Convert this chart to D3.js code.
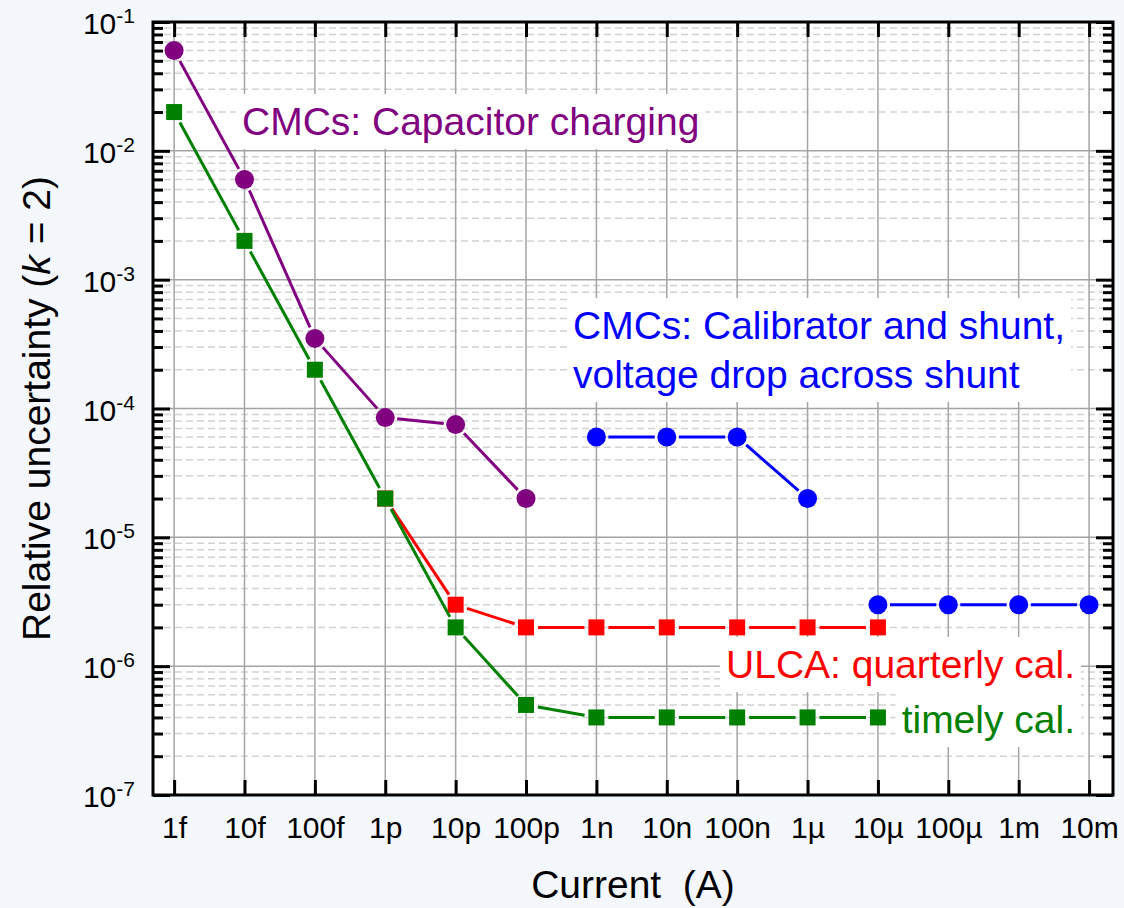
<!DOCTYPE html>
<html>
<head>
<meta charset="utf-8">
<script src="https://cdn.jsdelivr.net/npm/d3@7"></script>
<style>
body { margin: 0; background: #f4f8fd; }
svg { display: block; font-family: "Liberation Sans", Arial, sans-serif; }
</style>
</head>
<body>
<svg id="chart"></svg>
<script>
// x axis: current decades and their SI labels
const xTicks = [1e-15, 1e-14, 1e-13, 1e-12, 1e-11, 1e-10, 1e-9, 1e-8, 1e-7, 1e-6, 1e-5, 1e-4, 1e-3, 1e-2];
const xTickLabels = ["1f", "10f", "100f", "1p", "10p", "100p", "1n", "10n", "100n", "1µ", "10µ", "100µ", "1m", "10m"];

// y axis decades and exponent labels
const yTicks = [1e-7, 1e-6, 1e-5, 1e-4, 1e-3, 1e-2, 1e-1];
const yTickExp = ["-7", "-6", "-5", "-4", "-3", "-2", "-1"];

// CMCs: capacitor charging
const capCurrent = [1e-15, 1e-14, 1e-13, 1e-12, 1e-11, 1e-10];
const capUnc = [6e-2, 6e-3, 3.5e-4, 8.5e-5, 7.5e-5, 2e-5];

// CMCs: calibrator and shunt
const shuntCurrent = [1e-9, 1e-8, 1e-7, 1e-6];
const shuntUnc = [6e-5, 6e-5, 6e-5, 2e-5];

// CMCs: voltage drop across shunt
const dropCurrent = [1e-5, 1e-4, 1e-3, 1e-2];
const dropUnc = [3e-6, 3e-6, 3e-6, 3e-6];

// ULCA quarterly calibration
const quarterlyCurrent = [1e-12, 1e-11, 1e-10, 1e-9, 1e-8, 1e-7, 1e-6, 1e-5];
const quarterlyUnc = [2e-5, 3e-6, 2e-6, 2e-6, 2e-6, 2e-6, 2e-6, 2e-6];

// ULCA timely calibration
const timelyCurrent = [1e-15, 1e-14, 1e-13, 1e-12, 1e-11, 1e-10, 1e-9, 1e-8, 1e-7, 1e-6, 1e-5];
const timelyUnc = [2e-2, 2e-3, 2e-4, 2e-5, 2e-6, 5e-7, 4e-7, 4e-7, 4e-7, 4e-7, 4e-7];

class UncertaintyPlot {

    constructor(config) {
        this.config = {
            parent: config.parent,
            width: config.width || 1124,
            height: config.height || 908,
            margin: config.margin || {top: 22, right: 11, bottom: 113, left: 153}
        };
        this.init();
    }

    init() {
        let self = this;

        self.svg = d3.select(self.config.parent)
            .attr('width', self.config.width)
            .attr('height', self.config.height);

        self.inner_width = self.config.width - self.config.margin.left - self.config.margin.right;
        self.inner_height = self.config.height - self.config.margin.top - self.config.margin.bottom;

        self.chart = self.svg.append('g')
            .attr('transform', `translate(${self.config.margin.left}, ${self.config.margin.top})`);

        self.xscale = d3.scaleLog()
            .domain([Math.pow(10, -15.3), Math.pow(10, -1.66)])
            .range([0, self.inner_width]);

        self.yscale = d3.scaleLog()
            .domain([1e-7, 1e-1])
            .range([self.inner_height, 0]);

        self.chart.append('rect')
            .attr('width', self.inner_width)
            .attr('height', self.inner_height)
            .attr('fill', 'white');

        self.grid = self.chart.append('g');
        self.boxes = self.chart.append('g');
        self.data_g = self.chart.append('g');
        self.axes = self.chart.append('g');
        self.labels = self.chart.append('g');
    }

    render() {
        let self = this;
        const minor = self.yscale.ticks().filter(d => !yTicks.some(t => Math.abs(t - d) / t < 1e-6));

        // grid
        self.grid.selectAll('.minor').data(minor).join('line')
            .attr('class', 'minor')
            .attr('x1', 0).attr('x2', self.inner_width)
            .attr('y1', d => self.yscale(d)).attr('y2', d => self.yscale(d))
            .attr('stroke', '#d2d2d2').attr('stroke-width', 1.5)
            .attr('stroke-dasharray', '7,4');

        self.grid.selectAll('.hmajor').data(yTicks).join('line')
            .attr('class', 'hmajor')
            .attr('x1', 0).attr('x2', self.inner_width)
            .attr('y1', d => self.yscale(d)).attr('y2', d => self.yscale(d))
            .attr('stroke', '#a4a4a4').attr('stroke-width', 1.5);

        self.grid.selectAll('.vmajor').data(xTicks).join('line')
            .attr('class', 'vmajor')
            .attr('x1', d => self.xscale(d)).attr('x2', d => self.xscale(d))
            .attr('y1', 0).attr('y2', self.inner_height)
            .attr('stroke', '#a4a4a4').attr('stroke-width', 1.5);

        // series
        self.series(capCurrent, capUnc, '#800080', 'circle');
        self.series(shuntCurrent, shuntUnc, '#0000ff', 'circle');
        self.series(dropCurrent, dropUnc, '#0000ff', 'circle');
        self.series(quarterlyCurrent, quarterlyUnc, '#ff0000', 'square');
        self.series(timelyCurrent, timelyUnc, '#008000', 'square');

        // axes, ticks pointing inward
        const bottom = d3.axisBottom(self.xscale).tickValues(xTicks).tickSize(-15).tickSizeOuter(0)
            .tickFormat((d, i) => xTickLabels[i]);
        const top = d3.axisTop(self.xscale).tickValues(xTicks).tickSize(-15).tickSizeOuter(0).tickFormat('');
        const left = d3.axisLeft(self.yscale).tickValues(yTicks).tickSize(-17).tickSizeOuter(0).tickFormat('');
        const leftMinor = d3.axisLeft(self.yscale).tickValues(minor).tickSize(-10).tickSizeOuter(0).tickFormat('');
        const right = d3.axisRight(self.yscale).tickValues(yTicks).tickSize(-17).tickSizeOuter(0).tickFormat('');
        const rightMinor = d3.axisRight(self.yscale).tickValues(minor).tickSize(-10).tickSizeOuter(0).tickFormat('');

        const xb = self.axes.append('g').attr('transform', `translate(0, ${self.inner_height})`).call(bottom);
        self.axes.append('g').call(top);
        self.axes.append('g').call(left);
        self.axes.append('g').call(leftMinor);
        self.axes.append('g').attr('transform', `translate(${self.inner_width}, 0)`).call(right);
        self.axes.append('g').attr('transform', `translate(${self.inner_width}, 0)`).call(rightMinor);

        self.axes.selectAll('.domain').remove();
        self.axes.selectAll('.tick line').attr('stroke', 'black').attr('stroke-width', 3);

        xb.selectAll('text')
            .attr('y', 43).attr('dy', 0)
            .attr('font-size', 30)
            .attr('font-family', '"Liberation Sans", Arial, sans-serif')
            .attr('fill', 'black');

        // y tick labels 10^n
        const ylab = self.axes.selectAll('.ylab').data(yTicks).join('text')
            .attr('class', 'ylab')
            .attr('x', -18)
            .attr('y', d => self.yscale(d) + 12)
            .attr('text-anchor', 'end')
            .attr('font-size', 30);
        ylab.append('tspan').text('10');
        ylab.append('tspan').attr('font-size', 21).attr('dy', -11).text((d, i) => yTickExp[i]);

        // frame
        self.axes.append('rect')
            .attr('width', self.inner_width)
            .attr('height', self.inner_height)
            .attr('fill', 'none')
            .attr('stroke', 'black')
            .attr('stroke-width', 3);

        // axis titles
        self.svg.append('text')
            .attr('x', self.config.margin.left + self.inner_width / 2)
            .attr('y', 898)
            .attr('text-anchor', 'middle')
            .attr('font-size', 39)
            .style('white-space', 'pre')
            .text('Current  (A)');

        const yt = self.svg.append('text')
            .attr('transform', `translate(50, ${self.config.margin.top + self.inner_height / 2}) rotate(-90)`)
            .attr('text-anchor', 'middle')
            .attr('font-size', 39);
        yt.append('tspan').text('Relative uncertainty (');
        yt.append('tspan').attr('font-style', 'italic').text('k');
        yt.append('tspan').style('white-space', 'pre').text(' = 2)');

        // annotations with white boxes behind
        const m = self.config.margin;
        self.note(['CMCs: Capacitor charging'], 242 - m.left, 135 - m.top, 'start', '#800080');
        self.note(['CMCs: Calibrator and shunt,', 'voltage drop across shunt'], 573 - m.left, 339 - m.top, 'start', '#0000ff');
        self.note(['ULCA: quarterly cal.'], 1075 - m.left, 678 - m.top, 'end', '#ff0000');
        self.note(['timely cal.'], 1075 - m.left, 733 - m.top, 'end', '#008000');
    }

    series(xs, ys, color, shape) {
        let self = this;
        const pts = xs.map((v, i) => [self.xscale(v), self.yscale(ys[i])]);
        const gap = 12;
        const g = self.data_g.append('g');

        d3.pairs(pts).forEach(([a, b]) => {
            const dx = b[0] - a[0], dy = b[1] - a[1];
            const len = Math.hypot(dx, dy);
            if (len <= 2 * gap) return;
            const ux = dx / len, uy = dy / len;
            g.append('line')
                .attr('x1', a[0] + ux * gap).attr('y1', a[1] + uy * gap)
                .attr('x2', b[0] - ux * gap).attr('y2', b[1] - uy * gap)
                .attr('stroke', color).attr('stroke-width', 3);
        });

        if (shape === 'circle') {
            g.selectAll('circle').data(pts).join('circle')
                .attr('cx', d => d[0]).attr('cy', d => d[1])
                .attr('r', 9.5)
                .attr('fill', color);
        } else {
            g.selectAll('rect').data(pts).join('rect')
                .attr('x', d => d[0] - 8).attr('y', d => d[1] - 8)
                .attr('width', 16).attr('height', 16)
                .attr('fill', color);
        }
    }

    note(lines, x, y, anchor, color) {
        let self = this;
        const t = self.labels.append('text')
            .attr('text-anchor', anchor)
            .attr('font-size', 39)
            .attr('fill', color);
        lines.forEach((s, i) => {
            t.append('tspan').attr('x', x).attr('y', y + i * 49).text(s);
        });
        const bb = t.node().getBBox();
        self.boxes.append('rect')
            .attr('x', bb.x - 6).attr('y', bb.y - 6)
            .attr('width', bb.width + 12).attr('height', bb.height + 12)
            .attr('fill', 'white');
    }
}

const plot = new UncertaintyPlot({parent: '#chart'});
plot.render();
</script>
</body>
</html>
